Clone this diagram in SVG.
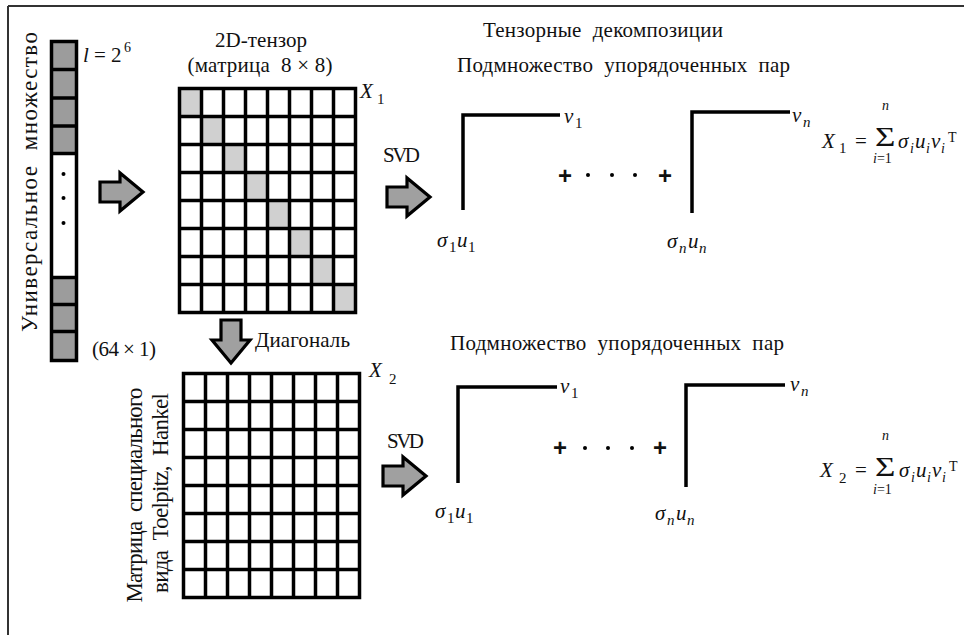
<svg xmlns="http://www.w3.org/2000/svg" width="964" height="635" viewBox="0 0 964 635">
  <style>
    text { font-family: "Liberation Serif", "Times New Roman", serif; fill: #111; }
    .t { font-size: 21px; }
    .v { font-size: 23px; }
    .m { font-size: 21px; font-style: italic; }
    .r { font-style: normal; }
    .s { font-size: 15px; }
    .xs { font-size: 14px; }
    .sig { font-size: 26px; font-style: normal; }
    .plus { font-family: "Liberation Sans", Arial, sans-serif; font-weight: bold; font-size: 24px; text-anchor: middle; }
    .grid { fill: none; stroke: #000; stroke-width: 3.5; }
    .diag { fill: #d0d0d0; }
    .cell { fill: #9c9c9c; }
    .ell { fill: none; stroke: #000; stroke-width: 3.5; stroke-linecap: butt; stroke-linejoin: miter; }
    .arrow { fill: #a0a0a0; stroke: #000; stroke-width: 3.2; stroke-linejoin: miter; }
    .frame { stroke: #333; stroke-width: 2; fill: none; }
  </style>
  <defs>
    <!-- block arrow pointing right, origin at the tail -->
    <path id="blk" d="M0,-10 H20 V-19 L43,0 L20,19 V10 H0 Z"/>
    <!-- 8x8 grid, 22 x 28 cells -->
    <path id="grid8" d="M0,0 H176 V224 H0 Z
      M22,0 V224 M44,0 V224 M66,0 V224 M88,0 V224 M110,0 V224 M132,0 V224 M154,0 V224
      M0,28 H176 M0,56 H176 M0,84 H176 M0,112 H176 M0,140 H176 M0,168 H176 M0,196 H176"/>
  </defs>

  <rect width="964" height="635" fill="#fff"/>
  <!-- page frame: top and left rules -->
  <path class="frame" d="M8,6 H964 M8,6 V635"/>

  <!-- universal set column -->
  <g id="universal-set">
    <rect x="51.5" y="41.5" width="25" height="319" fill="#fff"/>
    <rect class="cell" x="51.5" y="41.5" width="25" height="112"/>
    <rect class="cell" x="51.5" y="277.5" width="25" height="83"/>
    <path class="grid" d="M51.5,41.5 H76.5 V360.5 H51.5 Z M51.5,69.5 H76.5 M51.5,98 H76.5 M51.5,126 H76.5 M51.5,153.5 H76.5 M51.5,277.5 H76.5 M51.5,304.5 H76.5 M51.5,331.5 H76.5"/>
    <circle cx="63.5" cy="174" r="2"/>
    <circle cx="63.5" cy="198" r="2"/>
    <circle cx="63.5" cy="223" r="2"/>
    <text class="m" x="83" y="62">l<tspan class="r" x="94">=</tspan><tspan class="r" x="111">2</tspan><tspan class="r xs" x="124" y="52">6</tspan></text>
    <text class="t" x="92" y="356" textLength="64">(64 × 1)</text>
    <text class="v" transform="translate(37,182) rotate(-90)" text-anchor="middle" textLength="300" xml:space="preserve">Универсальное  множество</text>
  </g>

  <!-- 2D tensor (8x8 matrix) -->
  <g id="tensor-x1">
    <text class="t" x="261" y="47" text-anchor="middle" textLength="92">2D-тензор</text>
    <text class="t" x="260" y="72" text-anchor="middle" textLength="145" xml:space="preserve">(матрица  8 × 8)</text>
    <g transform="translate(179.5,88.5)">
      <rect width="176" height="224" fill="#fff"/>
      <rect class="diag" x="0" y="0" width="22" height="28"/>
      <rect class="diag" x="22" y="28" width="22" height="28"/>
      <rect class="diag" x="44" y="56" width="22" height="28"/>
      <rect class="diag" x="66" y="84" width="22" height="28"/>
      <rect class="diag" x="88" y="112" width="22" height="28"/>
      <rect class="diag" x="110" y="140" width="22" height="28"/>
      <rect class="diag" x="132" y="168" width="22" height="28"/>
      <rect class="diag" x="154" y="196" width="22" height="28"/>
      <use href="#grid8" class="grid"/>
    </g>
    <text class="m" x="360" y="98">X<tspan class="r s" x="377" y="104">1</tspan></text>
  </g>

  <!-- special-form matrix -->
  <g id="special-matrix-x2">
    <g transform="translate(183.5,373.5)">
      <rect width="176" height="224" fill="#fff"/>
      <use href="#grid8" class="grid"/>
    </g>
    <text class="m" x="369" y="377">X<tspan class="r s" x="389" y="384">2</tspan></text>
    <text class="v" transform="translate(142,495) rotate(-90)" text-anchor="middle" textLength="215" xml:space="preserve">Матрица  специального</text>
    <text class="v" transform="translate(168,493) rotate(-90)" text-anchor="middle" textLength="200" xml:space="preserve">вида  Toelpitz,  Hankel</text>
  </g>

  <!-- decomposition of X1 -->
  <g id="svd-x1">
    <text class="t" x="483" y="37" textLength="240" xml:space="preserve">Тензорные  декомпозиции</text>
    <text class="t" x="457" y="72" textLength="333" xml:space="preserve">Подмножество  упорядоченных  пар</text>
    <path class="ell" d="M463,210 V115 H560"/>
    <text class="m" x="564" y="123">v<tspan class="r s" x="575" y="128">1</tspan></text>
    <text class="m" x="437" y="247">σ<tspan class="r s" x="449" y="252">1</tspan><tspan x="457" y="247">u</tspan><tspan class="r s" x="468" y="252">1</tspan></text>
    <text class="plus" x="565" y="183.5">+</text>
    <circle cx="588" cy="175" r="2"/>
    <circle cx="612" cy="175" r="2"/>
    <circle cx="635" cy="175" r="2"/>
    <text class="plus" x="665" y="183.5">+</text>
    <path class="ell" d="M692,213 V112 H790"/>
    <text class="m" x="792" y="122">v<tspan class="s" x="803" y="127">n</tspan></text>
    <text class="m" x="667" y="248">σ<tspan class="s" x="679" y="253">n</tspan><tspan x="688" y="248">u</tspan><tspan class="s" x="699" y="253">n</tspan></text>
    <!-- X1 = sum_{i=1}^{n} sigma_i u_i v_i^T -->
    <text class="m" x="822" y="148">X<tspan class="r s" x="839" y="153">1</tspan><tspan class="r" x="855" y="148">=</tspan></text>
    <text class="sig" transform="translate(875,146) scale(1.35,1.05)">Σ</text>
    <text class="m xs" x="882" y="110">n</text>
    <text class="m xs" x="873" y="163">i<tspan class="r">=1</tspan></text>
    <text class="m" x="898" y="148">σ<tspan class="xs" x="910" y="153">i</tspan><tspan x="915" y="148">u</tspan><tspan class="xs" x="926" y="153">i</tspan><tspan x="931" y="148">v</tspan><tspan class="xs" x="941" y="153">i</tspan><tspan class="r xs" x="948" y="142">T</tspan></text>
  </g>

  <!-- decomposition of X2 -->
  <g id="svd-x2">
    <text class="t" x="450" y="350" textLength="334" xml:space="preserve">Подмножество  упорядоченных  пар</text>
    <path class="ell" d="M458,483 V387 H557"/>
    <text class="m" x="560" y="393">v<tspan class="r s" x="571" y="398">1</tspan></text>
    <text class="m" x="435" y="518">σ<tspan class="r s" x="447" y="523">1</tspan><tspan x="455" y="518">u</tspan><tspan class="r s" x="466" y="523">1</tspan></text>
    <text class="plus" x="560" y="455.5">+</text>
    <circle cx="585" cy="448" r="2"/>
    <circle cx="608" cy="448" r="2"/>
    <circle cx="632" cy="448" r="2"/>
    <text class="plus" x="660" y="455.5">+</text>
    <path class="ell" d="M686,487 V385 H785"/>
    <text class="m" x="790" y="391">v<tspan class="s" x="801" y="396">n</tspan></text>
    <text class="m" x="655" y="520">σ<tspan class="s" x="667" y="525">n</tspan><tspan x="676" y="520">u</tspan><tspan class="s" x="687" y="525">n</tspan></text>
    <text class="m" x="820" y="477">X<tspan class="r s" x="839" y="483">2</tspan><tspan class="r" x="855" y="477">=</tspan></text>
    <text class="sig" transform="translate(875,476) scale(1.35,1.05)">Σ</text>
    <text class="m xs" x="882" y="440">n</text>
    <text class="m xs" x="873" y="494">i<tspan class="r">=1</tspan></text>
    <text class="m" x="899" y="477">σ<tspan class="xs" x="911" y="482">i</tspan><tspan x="916" y="477">u</tspan><tspan class="xs" x="927" y="482">i</tspan><tspan x="932" y="477">v</tspan><tspan class="xs" x="942" y="482">i</tspan><tspan class="r xs" x="949" y="471">T</tspan></text>
  </g>

  <!-- connectors: block arrows and their labels -->
  <g id="connectors">
    <use href="#blk" class="arrow" transform="translate(100,192)"/>
    <use href="#blk" class="arrow" transform="translate(231,320) rotate(90)"/>
    <text class="t" x="255" y="347" textLength="95">Диагональ</text>
    <text class="t" x="383" y="162" textLength="37">SVD</text>
    <use href="#blk" class="arrow" transform="translate(387,197)"/>
    <text class="t" x="387" y="448" textLength="37">SVD</text>
    <use href="#blk" class="arrow" transform="translate(383,476)"/>
  </g>
</svg>
